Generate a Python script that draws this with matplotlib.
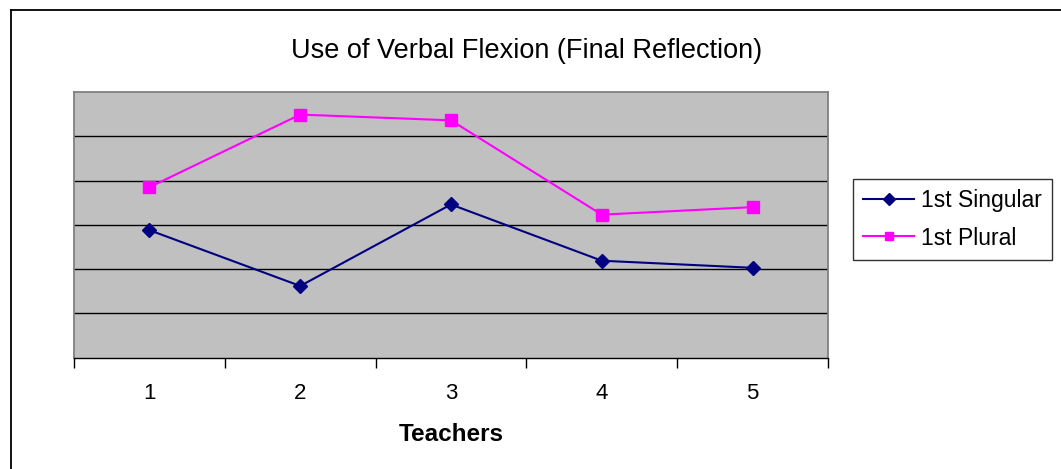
import matplotlib.pyplot as plt
from matplotlib.lines import Line2D

plt.rcParams["font.family"] = ["Liberation Sans", "DejaVu Sans"]

teachers = ["1", "2", "3", "4", "5"]
singular = [2.88, 1.62, 3.46, 2.19, 2.03]
plural = [3.85, 5.49, 5.36, 3.23, 3.40]

W, H = 1061, 469
fig = plt.figure(figsize=(W / 100, H / 100), dpi=100)

# outer chart border (only left and top visible in the crop)
fig.add_artist(Line2D([10.5 / W, 10.5 / W], [0, 1 - 10.5 / H], transform=fig.transFigure, color="black", lw=1.3))
fig.add_artist(Line2D([10.5 / W, 1], [1 - 10.5 / H, 1 - 10.5 / H], transform=fig.transFigure, color="black", lw=1.3))

left, right, top, bottom = 74, 828, 92, 357.7
ax = fig.add_axes([left / W, 1 - bottom / H, (right - left) / W, (bottom - top) / H])
ax.set_facecolor("#c0c0c0")

x = list(range(len(teachers)))
ax.plot(x, singular, color="#000080", lw=1.5, marker="D", ms=7.5, label="1st Singular")
ax.plot(x, plural, color="#ff00ff", lw=1.5, marker="s", ms=8, label="1st Plural")

ax.set_xlim(-0.5, len(teachers) - 0.5)
ax.set_ylim(0, 6)
ax.set_yticks(range(1, 6))
ax.yaxis.grid(True, color="black", lw=1)
ax.set_axisbelow(True)
ax.tick_params(axis="y", left=False, labelleft=False)

ax.set_xticks([i - 0.5 for i in range(len(teachers) + 1)])
ax.set_xticklabels([])
ax.set_xticks(x, minor=True)
ax.set_xticklabels(teachers, minor=True, fontsize=16)
ax.tick_params(axis="x", which="major", length=7, width=1, color="black", direction="out")
ax.tick_params(axis="x", which="minor", length=0, pad=18.5)

for side in ["left", "top", "right"]:
    ax.spines[side].set_color("#808080")
    ax.spines[side].set_linewidth(1.3)
ax.spines["bottom"].set_color("black")
ax.spines["bottom"].set_linewidth(1)

fig.text(451 / W, 1 - 434 / H, "Teachers", ha="center", va="center", fontsize=17.5, fontweight="bold")
fig.text(527 / W, 1 - 51 / H, "Use of Verbal Flexion (Final Reflection)", ha="center", va="center", fontsize=19.5)

leg = ax.legend(loc="upper left", bbox_to_anchor=(853 / W, 1 - 179 / H), bbox_transform=fig.transFigure,
                frameon=True, fancybox=False, fontsize=16.5, handlelength=2.2, borderpad=0.45,
                labelspacing=0.62, handletextpad=0.3, borderaxespad=0, markerscale=0.8)
leg.get_frame().set_edgecolor("black")
leg.get_frame().set_linewidth(1)

fig.savefig("out.png", dpi=100)
